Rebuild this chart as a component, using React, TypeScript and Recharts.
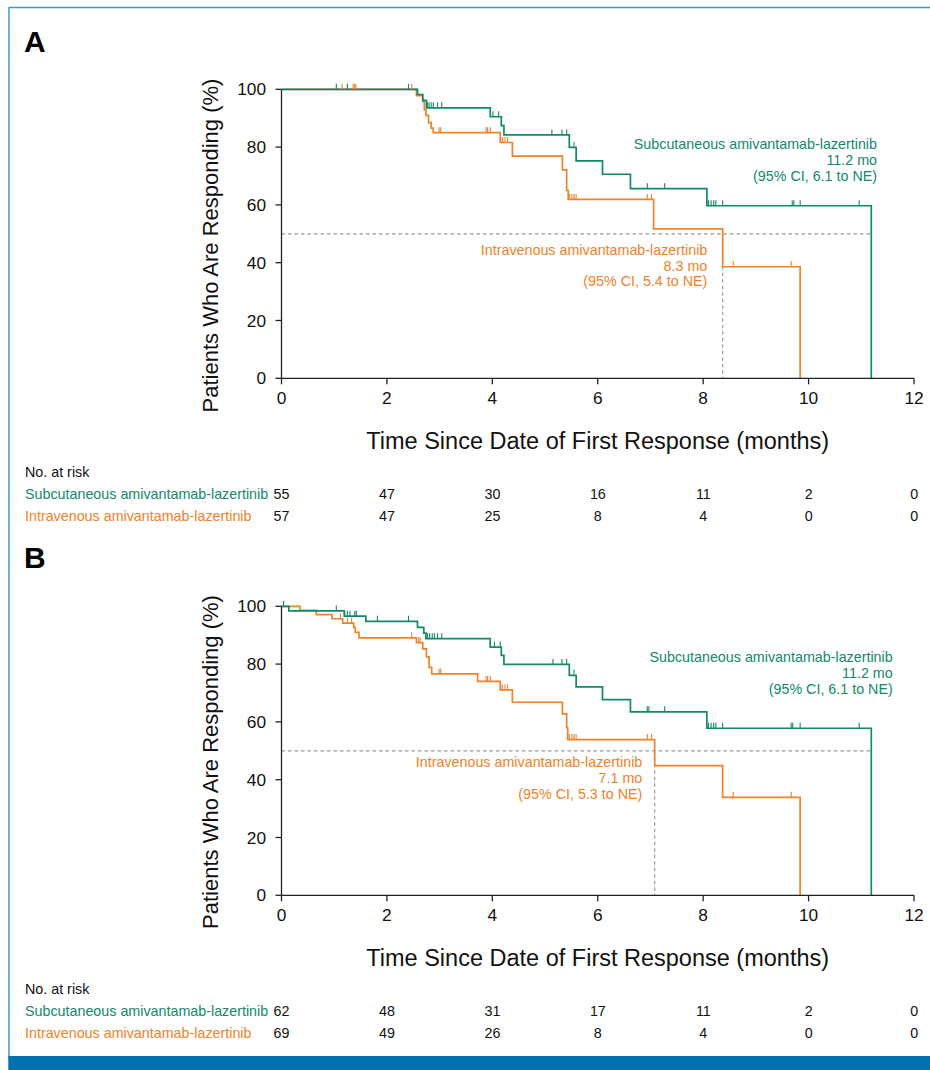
import React from 'react';
import { ComposedChart, Line, XAxis, YAxis, ReferenceLine } from 'recharts';

const GREEN = '#11896a';
const ORANGE = '#f08228';
const FONT = '"Liberation Sans", Arial, sans-serif';

const X_TICKS = [0, 2, 4, 6, 8, 10, 12];
const Y_TICKS = [0, 20, 40, 60, 80, 100];

// Panel A – Kaplan-Meier steps (t in months, v in %)
const scCurveA = [
  { t: 0, v: 100 }, { t: 2.58, v: 98.2 }, { t: 2.68, v: 96.2 }, { t: 2.75, v: 93.6 },
  { t: 3.96, v: 90.5 }, { t: 4.17, v: 87.4 }, { t: 4.22, v: 84.2 }, { t: 5.46, v: 79.9 },
  { t: 5.59, v: 75.2 }, { t: 6.09, v: 70.6 }, { t: 6.62, v: 65.6 }, { t: 8.07, v: 59.7 },
  { t: 11.19, v: 0 },
];
const ivCurveA = [
  { t: 0, v: 100 }, { t: 2.56, v: 97.8 }, { t: 2.68, v: 95.7 }, { t: 2.71, v: 93.0 },
  { t: 2.74, v: 91.0 }, { t: 2.79, v: 88.5 }, { t: 2.84, v: 86.6 }, { t: 2.88, v: 85.0 },
  { t: 4.15, v: 81.6 }, { t: 4.38, v: 76.9 }, { t: 5.33, v: 72.1 }, { t: 5.41, v: 65.0 },
  { t: 5.44, v: 61.9 }, { t: 7.06, v: 51.7 }, { t: 8.37, v: 38.6 }, { t: 9.84, v: 0 },
];
const scCensorA = [
  { t: 1.04, v: 100 }, { t: 1.25, v: 100 }, { t: 2.41, v: 100 },
  { t: 2.77, v: 93.6 }, { t: 2.80, v: 93.6 }, { t: 2.84, v: 93.6 }, { t: 2.88, v: 93.6 }, { t: 2.96, v: 93.6 }, { t: 3.04, v: 93.6 },
  { t: 4.01, v: 90.5 }, { t: 4.12, v: 90.5 },
  { t: 5.13, v: 84.2 }, { t: 5.32, v: 84.2 }, { t: 5.41, v: 84.2 },
  { t: 5.55, v: 79.9 },
  { t: 6.94, v: 65.6 }, { t: 7.27, v: 65.6 },
  { t: 8.10, v: 59.7 }, { t: 8.15, v: 59.7 }, { t: 8.20, v: 59.7 }, { t: 8.24, v: 59.7 }, { t: 8.37, v: 59.7 },
  { t: 9.69, v: 59.7 }, { t: 9.72, v: 59.7 }, { t: 9.84, v: 59.7 }, { t: 10.96, v: 59.7 },
];
const ivCensorA = [
  { t: 1.15, v: 100 }, { t: 1.36, v: 100 }, { t: 1.39, v: 100 }, { t: 1.41, v: 100 }, { t: 2.47, v: 100 },
  { t: 2.99, v: 85.0 }, { t: 3.02, v: 85.0 }, { t: 3.88, v: 85.0 }, { t: 3.91, v: 85.0 }, { t: 3.96, v: 85.0 },
  { t: 4.19, v: 81.6 }, { t: 4.24, v: 81.6 }, { t: 4.29, v: 81.6 },
  { t: 5.46, v: 61.9 }, { t: 5.51, v: 61.9 }, { t: 5.55, v: 61.9 }, { t: 5.59, v: 61.9 }, { t: 6.94, v: 61.9 }, { t: 7.02, v: 61.9 },
  { t: 8.57, v: 38.6 }, { t: 9.67, v: 38.6 },
];

// Panel B
const scCurveB = [
  { t: 0, v: 100 }, { t: 0.14, v: 98.4 }, { t: 1.19, v: 96.6 }, { t: 1.60, v: 94.8 },
  { t: 2.58, v: 92.7 }, { t: 2.70, v: 90.7 }, { t: 2.74, v: 88.8 }, { t: 3.96, v: 85.9 },
  { t: 4.17, v: 83.0 }, { t: 4.22, v: 79.9 }, { t: 5.46, v: 76.1 }, { t: 5.59, v: 72.1 },
  { t: 6.09, v: 67.7 }, { t: 6.62, v: 63.5 }, { t: 8.07, v: 57.8 }, { t: 11.19, v: 0 },
];
const ivCurveB = [
  { t: 0, v: 100 }, { t: 0.35, v: 98.6 }, { t: 0.66, v: 97.1 }, { t: 0.96, v: 95.7 },
  { t: 1.16, v: 94.2 }, { t: 1.37, v: 92.7 }, { t: 1.40, v: 91.0 }, { t: 1.47, v: 89.1 },
  { t: 2.56, v: 87.4 }, { t: 2.68, v: 85.3 }, { t: 2.75, v: 82.5 }, { t: 2.80, v: 78.9 },
  { t: 2.85, v: 76.6 }, { t: 3.72, v: 74.0 }, { t: 4.15, v: 71.1 }, { t: 4.38, v: 66.8 },
  { t: 5.33, v: 62.8 }, { t: 5.41, v: 58.0 }, { t: 5.43, v: 53.9 }, { t: 7.08, v: 44.9 },
  { t: 8.37, v: 33.9 }, { t: 9.84, v: 0 },
];
const scCensorB = [
  { t: 0.04, v: 100 }, { t: 1.04, v: 98.4 },
  { t: 1.20, v: 96.6 }, { t: 1.25, v: 96.6 }, { t: 1.30, v: 96.6 }, { t: 1.39, v: 96.6 }, { t: 1.42, v: 96.6 },
  { t: 1.82, v: 94.8 }, { t: 2.41, v: 94.8 },
  { t: 2.77, v: 88.8 }, { t: 2.81, v: 88.8 }, { t: 2.86, v: 88.8 }, { t: 2.90, v: 88.8 }, { t: 2.96, v: 88.8 }, { t: 3.04, v: 88.8 },
  { t: 4.04, v: 85.9 }, { t: 4.15, v: 85.9 },
  { t: 5.15, v: 79.9 }, { t: 5.32, v: 79.9 }, { t: 5.41, v: 79.9 },
  { t: 5.55, v: 76.1 },
  { t: 6.94, v: 63.5 }, { t: 6.97, v: 63.5 }, { t: 7.27, v: 63.5 },
  { t: 8.10, v: 57.8 }, { t: 8.15, v: 57.8 }, { t: 8.20, v: 57.8 }, { t: 8.24, v: 57.8 }, { t: 8.37, v: 57.8 },
  { t: 9.67, v: 57.8 }, { t: 9.70, v: 57.8 }, { t: 9.84, v: 57.8 }, { t: 10.96, v: 57.8 },
];
const ivCensorB = [
  { t: 1.12, v: 95.7 }, { t: 1.25, v: 94.2 }, { t: 1.33, v: 94.2 },
  { t: 2.47, v: 89.1 }, { t: 2.60, v: 87.4 }, { t: 2.63, v: 87.4 },
  { t: 2.99, v: 76.6 }, { t: 3.02, v: 76.6 },
  { t: 3.88, v: 74.0 }, { t: 3.91, v: 74.0 }, { t: 3.96, v: 74.0 },
  { t: 4.19, v: 71.1 }, { t: 4.24, v: 71.1 }, { t: 4.29, v: 71.1 },
  { t: 5.46, v: 53.9 }, { t: 5.51, v: 53.9 }, { t: 5.55, v: 53.9 }, { t: 5.59, v: 53.9 }, { t: 6.94, v: 53.9 }, { t: 7.02, v: 53.9 },
  { t: 8.57, v: 33.9 }, { t: 9.67, v: 33.9 },
];

const riskScA = [55, 47, 30, 16, 11, 2, 0];
const riskIvA = [57, 47, 25, 8, 4, 0, 0];
const riskScB = [62, 48, 31, 17, 11, 2, 0];
const riskIvB = [69, 49, 26, 8, 4, 0, 0];

const SC_NAME = 'Subcutaneous amivantamab-lazertinib';
const IV_NAME = 'Intravenous amivantamab-lazertinib';
const scNoteA = [SC_NAME, '11.2 mo', '(95% CI, 6.1 to NE)'];
const ivNoteA = [IV_NAME, '8.3 mo', '(95% CI, 5.4 to NE)'];
const scNoteB = [SC_NAME, '11.2 mo', '(95% CI, 6.1 to NE)'];
const ivNoteB = [IV_NAME, '7.1 mo', '(95% CI, 5.3 to NE)'];

const X0 = 281.5;
const XSTEP = 105.45;

function censorDot(color: string) {
  return (p: any) => {
    const { cx, cy, index } = p;
    if (cx == null || cy == null) return <g key={`e${index}`} />;
    return <line key={`c${index}`} x1={cx} x2={cx} y1={cy} y2={cy - 5.5} stroke={color} strokeWidth={1.1} />;
  };
}

function Chart({ sc, iv, scC, ivC, ivMedian, scEnd }: any) {
  return (
    <ComposedChart width={930} height={470} margin={{ top: 89.3, right: 16, bottom: 0, left: 0 }}>
      <XAxis
        type="number" dataKey="t" domain={[0, 12]} ticks={X_TICKS} allowDataOverflow
        height={91.7} tickSize={6} tickMargin={7}
        axisLine={{ stroke: '#222', strokeWidth: 1.3 }} tickLine={{ stroke: '#222', strokeWidth: 1.3 }}
        tick={{ fill: '#111', fontSize: 17.3, fontFamily: FONT }}
      />
      <YAxis
        type="number" domain={[0, 100]} ticks={Y_TICKS} width={X0}
        tickSize={6} tickMargin={9.5}
        axisLine={{ stroke: '#222', strokeWidth: 1.3 }} tickLine={{ stroke: '#222', strokeWidth: 1.3 }}
        tick={{ fill: '#111', fontSize: 17.3, fontFamily: FONT }}
      />
      <ReferenceLine segment={[{ x: 0, y: 50 }, { x: scEnd, y: 50 }]} stroke="#9a9a9a" strokeWidth={1.2} strokeDasharray="3.5 3" />
      <ReferenceLine segment={[{ x: ivMedian, y: 50 }, { x: ivMedian, y: 0 }]} stroke="#9a9a9a" strokeWidth={1.2} strokeDasharray="3.5 3" />
      <Line data={iv} dataKey="v" type="stepAfter" stroke={ORANGE} strokeWidth={1.7} dot={false} activeDot={false} isAnimationActive={false} />
      <Line data={sc} dataKey="v" type="stepAfter" stroke={GREEN} strokeWidth={1.7} dot={false} activeDot={false} isAnimationActive={false} />
      <Line data={ivC} dataKey="v" stroke="none" dot={censorDot(ORANGE)} activeDot={false} isAnimationActive={false} />
      <Line data={scC} dataKey="v" stroke="none" dot={censorDot(GREEN)} activeDot={false} isAnimationActive={false} />
    </ComposedChart>
  );
}

function Note({ lines, right, top, color, lh }: any) {
  return (
    <g>
      {lines.map((s: string, i: number) => (
        <text key={i} x={right} y={top + i * lh} textAnchor="end" dominantBaseline="central" fill={color} fontSize={14.3} fontFamily={FONT}>{s}</text>
      ))}
    </g>
  );
}

function Overlay({ dy, letter, risk1, risk2, scNote, ivNote, scPos, ivPos }: any) {
  const fs = 14.3;
  return (
    <g transform={`translate(0, ${dy})`}>
      <text x={24} y={51.5} fontSize={30} fontWeight="bold" fontFamily={FONT} fill="#000">{letter}</text>
      <text transform="translate(210, 245.5) rotate(-90)" textAnchor="middle" dominantBaseline="central" fontSize={22} fontFamily={FONT} fill="#111">Patients Who Are Responding (%)</text>
      <text x={597.7} y={441} textAnchor="middle" dominantBaseline="central" fontSize={23.5} fontFamily={FONT} fill="#111">Time Since Date of First Response (months)</text>
      <Note lines={scNote} right={scPos[0]} top={scPos[1]} color={GREEN} lh={15.8} />
      <Note lines={ivNote} right={ivPos[0]} top={ivPos[1]} color={ORANGE} lh={15.6} />
      <text x={25} y={472} dominantBaseline="central" fontSize={fs} fontFamily={FONT} fill="#111">No. at risk</text>
      <text x={25} y={494} dominantBaseline="central" fontSize={fs} fontFamily={FONT} fill={GREEN}>{SC_NAME}</text>
      <text x={25} y={516} dominantBaseline="central" fontSize={fs} fontFamily={FONT} fill={ORANGE}>{IV_NAME}</text>
      {risk1.map((n: number, i: number) => (
        <text key={`a${i}`} x={X0 + i * XSTEP} y={494} textAnchor="middle" dominantBaseline="central" fontSize={fs} fontFamily={FONT} fill="#111">{n}</text>
      ))}
      {risk2.map((n: number, i: number) => (
        <text key={`b${i}`} x={X0 + i * XSTEP} y={516} textAnchor="middle" dominantBaseline="central" fontSize={fs} fontFamily={FONT} fill="#111">{n}</text>
      ))}
    </g>
  );
}

export default function App() {
  return (
    <div style={{ position: 'absolute', left: 0, top: 0, width: 930, height: 1070, background: '#fff', fontFamily: FONT }}>
      <svg width={930} height={1070} style={{ position: 'absolute', left: 0, top: 0 }}>
        <line x1={9} y1={7.5} x2={930} y2={7.5} stroke="#3d98cf" strokeWidth={1.5} />
        <line x1={9} y1={7} x2={9} y2={1060} stroke="#3d98cf" strokeWidth={1.5} />
        <rect x={8.3} y={1056} width={922} height={14} fill="#0072b0" />
        <Overlay dy={0} letter="A" risk1={riskScA} risk2={riskIvA} scNote={scNoteA} ivNote={ivNoteA} scPos={[877, 144]} ivPos={[707.3, 250]} />
        <Overlay dy={516.5} letter="B" risk1={riskScB} risk2={riskIvB} scNote={scNoteB} ivNote={ivNoteB} scPos={[892.7, 140.8]} ivPos={[642.3, 245.8]} />
      </svg>
      <div style={{ position: 'absolute', left: 0, top: 0 }}>
        <Chart sc={scCurveA} iv={ivCurveA} scC={scCensorA} ivC={ivCensorA} ivMedian={8.37} scEnd={11.19} />
      </div>
      <div style={{ position: 'absolute', left: 0, top: 516.5 }}>
        <Chart sc={scCurveB} iv={ivCurveB} scC={scCensorB} ivC={ivCensorB} ivMedian={7.08} scEnd={11.19} />
      </div>
    </div>
  );
}
